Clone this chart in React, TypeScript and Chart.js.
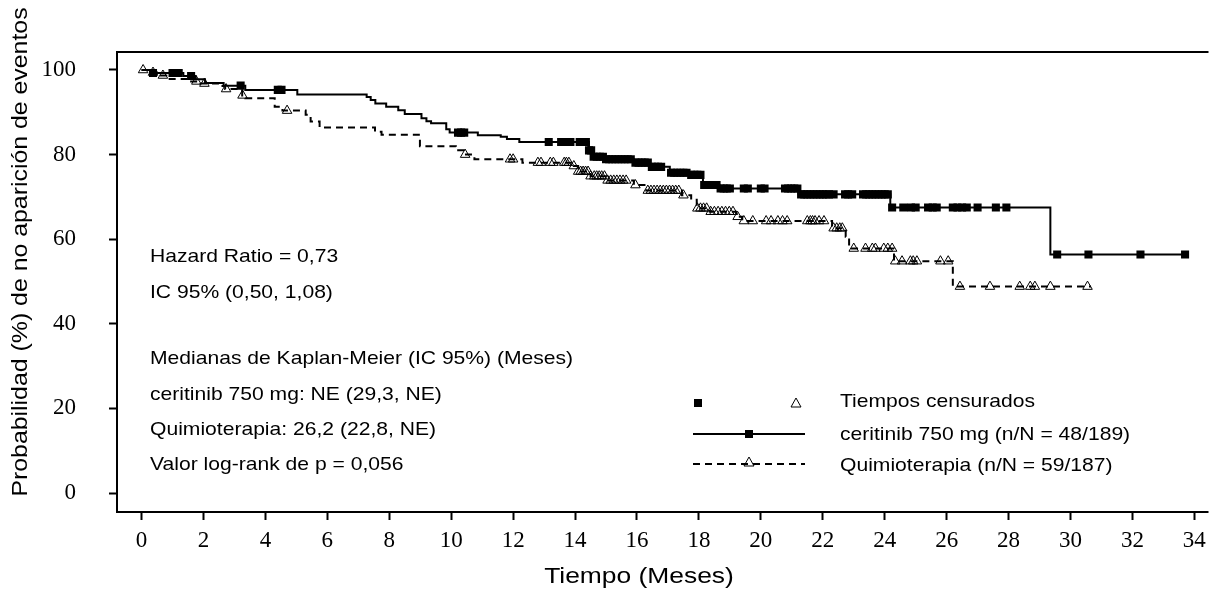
import React, { useEffect, useRef } from "react";
import { Chart, registerables } from "chart.js";

Chart.register(...registerables);

// ---------- data ----------
const xTicks = [0, 2, 4, 6, 8, 10, 12, 14, 16, 18, 20, 22, 24, 26, 28, 30, 32, 34];
const yTicks = [0, 20, 40, 60, 80, 100];

// Ceritinib KM step curve (time in months, survival %)
const cerTimes = [0, 0.3, 1.35, 1.75, 2.05, 2.65, 3.35, 5.03, 7.27, 7.4, 7.55, 7.9, 8.29, 8.5, 9.04, 9.2, 9.35, 9.84, 9.95, 10.86, 11.6, 11.8, 12.2, 14.45, 14.6, 14.97, 15.9, 16.42, 17.06, 17.7, 18.13, 18.66, 21.22, 24.18, 29.35, 33.7];
const cerSurv = [100, 99.3, 98.6, 97.8, 96.9, 96.3, 95.3, 94.2, 93.6, 92.9, 92.1, 91.3, 90.5, 89.6, 88.6, 87.9, 87.4, 86.0, 85.2, 84.6, 84.2, 83.7, 83.0, 81.0, 79.5, 78.9, 78.1, 77.1, 75.7, 75.2, 72.8, 72.0, 70.6, 67.5, 56.4, 56.4];
const cerCensor = [0.37, 1.0, 1.1, 1.2, 1.6, 3.2, 4.4, 4.52, 10.22, 10.32, 10.42, 13.15, 13.55, 13.65, 13.75, 13.85, 14.15, 14.25, 14.35, 14.45, 14.52, 14.6, 14.7, 14.8, 14.9, 15.0, 15.1, 15.2, 15.3, 15.4, 15.5, 15.6, 15.7, 15.8, 15.95, 16.05, 16.15, 16.25, 16.35, 16.48, 16.58, 16.68, 16.78, 17.1, 17.2, 17.3, 17.4, 17.5, 17.6, 17.75, 17.85, 17.95, 18.05, 18.17, 18.27, 18.37, 18.47, 18.57, 18.7, 18.8, 18.9, 19.0, 19.45, 19.58, 20.0, 20.12, 20.78, 20.88, 20.98, 21.08, 21.18, 21.3, 21.4, 21.5, 21.6, 21.7, 21.8, 21.9, 22.0, 22.1, 22.2, 22.35, 22.72, 22.82, 22.95, 23.3, 23.4, 23.5, 23.6, 23.7, 23.8, 23.9, 24.0, 24.1, 24.24, 24.6, 24.85, 25.0, 25.4, 25.55, 25.68, 26.2, 26.35, 26.5, 26.65, 27.0, 27.59, 27.93, 29.57, 30.58, 32.26, 33.7];

// Chemotherapy KM step curve
const chemoTimes = [0, 0.2, 0.5, 0.8, 1.5, 1.9, 2.5, 2.7, 3.25, 3.35, 4.3, 4.55, 5.3, 5.46, 5.75, 7.54, 7.75, 8.99, 10.15, 10.4, 10.75, 12.3, 13.96, 14.1, 14.5, 15.0, 15.9, 16.3, 17.45, 17.75, 17.93, 18.35, 19.2, 19.4, 22.3, 22.74, 22.85, 24.3, 26.2, 30.66];
const chemoSurv = [100, 99.4, 98.7, 97.9, 97.3, 96.8, 96.2, 95.5, 94.0, 93.3, 91.3, 90.4, 89.4, 87.8, 86.4, 85.4, 84.7, 82.0, 81.0, 80.0, 78.9, 78.1, 77.3, 76.0, 74.9, 73.9, 72.8, 71.5, 70.4, 69.3, 67.3, 66.5, 65.3, 64.3, 62.6, 60.6, 57.8, 54.8, 48.8, 48.8];
const chemoCensor = [0.05, 0.37, 0.69, 1.77, 2.03, 2.73, 3.26, 4.7, 10.45, 11.9, 12.0, 12.8, 12.9, 13.2, 13.3, 13.65, 13.72, 13.8, 13.96, 14.1, 14.18, 14.26, 14.34, 14.42, 14.5, 14.62, 14.7, 14.78, 14.86, 14.95, 15.05, 15.15, 15.25, 15.35, 15.45, 15.55, 15.65, 15.95, 16.35, 16.45, 16.55, 16.65, 16.75, 16.85, 16.95, 17.05, 17.15, 17.25, 17.35, 17.5, 17.95, 18.05, 18.15, 18.25, 18.38, 18.5, 18.62, 18.74, 18.86, 18.98, 19.1, 19.25, 19.45, 19.74, 20.17, 20.33, 20.55, 20.7, 20.85, 21.5, 21.6, 21.67, 21.75, 21.88, 22.04, 22.35, 22.45, 22.55, 22.63, 23.0, 23.38, 23.6, 23.7, 23.97, 24.1, 24.24, 24.34, 24.56, 24.83, 24.92, 25.04, 25.8, 26.05, 26.43, 27.4, 28.36, 28.7, 28.85, 29.35, 30.55];

const annotationLines = [
  "Hazard Ratio = 0,73",
  "IC 95% (0,50, 1,08)",
  "Medianas de Kaplan-Meier (IC 95%) (Meses)",
  "ceritinib 750 mg: NE (29,3, NE)",
  "Quimioterapia: 26,2 (22,8, NE)",
  "Valor log-rank de p = 0,056",
];
const annotationY = [257, 293, 359, 395, 430, 465];

const legendLabels = [
  "Tiempos censurados",
  "ceritinib 750 mg (n/N = 48/189)",
  "Quimioterapia (n/N = 59/187)",
];

const xTitle = "Tiempo (Meses)";
const yTitle = "Probabilidad (%) de no aparición de eventos";

// ---------- helpers ----------
function survAt(times: number[], surv: number[], t: number): number {
  let s = surv[0];
  for (let i = 0; i < times.length; i++) {
    if (times[i] <= t) s = surv[i];
  }
  return s;
}

const SANS = '"Liberation Sans", Arial, sans-serif';
const SERIF = '"Liberation Serif", "Times New Roman", serif';

function drawTri(ctx: CanvasRenderingContext2D, x: number, y: number) {
  ctx.beginPath();
  ctx.moveTo(x, y - 5);
  ctx.lineTo(x + 5, y + 4);
  ctx.lineTo(x - 5, y + 4);
  ctx.closePath();
  ctx.stroke();
}

function stretchText(ctx: CanvasRenderingContext2D, text: string, x: number, y: number, sx: number) {
  ctx.save();
  ctx.translate(x, y);
  ctx.scale(sx, 1);
  ctx.fillText(text, 0, 0);
  ctx.restore();
}

const decorPlugin = {
  id: "decor",
  afterDraw(chart: any) {
    const ctx: CanvasRenderingContext2D = chart.ctx;
    const a = chart.chartArea;
    ctx.save();
    // box (left, top, bottom)
    ctx.strokeStyle = "#000";
    ctx.lineWidth = 2;
    ctx.beginPath();
    ctx.moveTo(a.right, a.top);
    ctx.lineTo(a.left, a.top);
    ctx.lineTo(a.left, a.bottom);
    ctx.lineTo(a.right, a.bottom);
    ctx.stroke();

    // annotation texts
    ctx.fillStyle = "#000";
    ctx.font = `19px ${SANS}`;
    ctx.textAlign = "left";
    ctx.textBaseline = "middle";
    annotationLines.forEach((t, i) => stretchText(ctx, t, 150, annotationY[i], 1.11));

    // legend
    const lx0 = 693, lx1 = 805, lm = 749;
    ctx.fillRect(698 - 4, 403 - 4, 8, 8);
    ctx.lineWidth = 1;
    drawTri(ctx, 796, 403);
    ctx.lineWidth = 2;
    ctx.beginPath();
    ctx.moveTo(lx0, 434);
    ctx.lineTo(lx1, 434);
    ctx.stroke();
    ctx.fillRect(lm - 4, 434 - 4, 8, 8);
    ctx.setLineDash([7, 5]);
    ctx.beginPath();
    ctx.moveTo(lx0, 464);
    ctx.lineTo(lx1, 464);
    ctx.stroke();
    ctx.setLineDash([]);
    ctx.lineWidth = 1;
    drawTri(ctx, lm, 462);
    stretchText(ctx, legendLabels[0], 840, 402, 1.11);
    stretchText(ctx, legendLabels[1], 840, 435, 1.11);
    stretchText(ctx, legendLabels[2], 840, 466, 1.11);

    // axis titles
    ctx.font = `22px ${SANS}`;
    ctx.textAlign = "center";
    stretchText(ctx, xTitle, 639, 577, 1.2);
    ctx.save();
    ctx.translate(21, 252);
    ctx.rotate(-Math.PI / 2);
    ctx.scale(1.13, 1);
    ctx.fillText(yTitle, 0, 0);
    ctx.restore();
    ctx.restore();
  },
};

export default function App() {
  const ref = useRef<HTMLCanvasElement | null>(null);

  useEffect(() => {
    if (!ref.current) return;
    const cerLine = cerTimes.map((t, i) => ({ x: t, y: cerSurv[i] }));
    const chemoLine = chemoTimes.map((t, i) => ({ x: t, y: chemoSurv[i] }));
    const cerPts = cerCensor.map((t) => ({ x: t, y: survAt(cerTimes, cerSurv, t) }));
    const chemoPts = chemoCensor.map((t) => ({ x: t, y: survAt(chemoTimes, chemoSurv, t) }));

    const chart = new Chart(ref.current, {
      type: "line",
      data: {
        datasets: [
          {
            label: "Quimioterapia",
            data: chemoLine,
            stepped: "before",
            borderColor: "#000",
            borderWidth: 2,
            borderDash: [7, 5],
            pointRadius: 0,
            fill: false,
          },
          {
            label: "ceritinib",
            data: cerLine,
            stepped: "before",
            borderColor: "#000",
            borderWidth: 2,
            pointRadius: 0,
            fill: false,
          },
          {
            label: "censor chemo",
            data: chemoPts,
            showLine: false,
            pointStyle: "triangle",
            pointRadius: 5.5,
            pointBorderWidth: 1,
            pointBorderColor: "#000",
            pointBackgroundColor: "rgba(0,0,0,0)",
          },
          {
            label: "censor cer",
            data: cerPts,
            showLine: false,
            pointStyle: "rect",
            pointRadius: 5.7,
            pointBorderWidth: 0,
            pointBorderColor: "#000",
            pointBackgroundColor: "#000",
          },
        ],
      },
      options: {
        responsive: false,
        maintainAspectRatio: false,
        animation: false,
        events: [],
        layout: { padding: { top: 52, left: 0, right: 0, bottom: 0 } },
        plugins: { legend: { display: false }, tooltip: { enabled: false }, title: { display: false } },
        scales: {
          x: {
            type: "linear",
            min: -0.793,
            max: 34.457,
            afterBuildTicks: (axis: any) => {
              axis.ticks = xTicks.map((v) => ({ value: v }));
            },
            afterFit: (s: any) => {
              s.height = 77;
            },
            border: { display: false },
            grid: { drawOnChartArea: false, drawTicks: true, tickLength: 8, tickColor: "#000", tickWidth: 2 },
            ticks: {
              color: "#000",
              padding: 7,
              maxRotation: 0,
              autoSkip: false,
              font: { family: SERIF, size: 23 },
              callback: (v: any) => String(v),
            },
          },
          y: {
            type: "linear",
            min: -4.49,
            max: 104.255,
            afterBuildTicks: (axis: any) => {
              axis.ticks = yTicks.map((v) => ({ value: v }));
            },
            afterFit: (s: any) => {
              s.width = 117;
            },
            border: { display: false },
            grid: { drawOnChartArea: false, drawTicks: true, tickLength: 8, tickColor: "#000", tickWidth: 2 },
            ticks: {
              color: "#000",
              padding: 33,
              autoSkip: false,
              font: { family: SERIF, size: 23 },
              callback: (v: any) => String(v),
            },
          },
        },
      },
      plugins: [decorPlugin],
    });
    return () => chart.destroy();
  }, []);

  return (
    <div style={{ position: "absolute", left: 0, top: 0, width: 1215, height: 589, background: "#fff" }}>
      <canvas ref={ref} width={1215} height={589} />
    </div>
  );
}
